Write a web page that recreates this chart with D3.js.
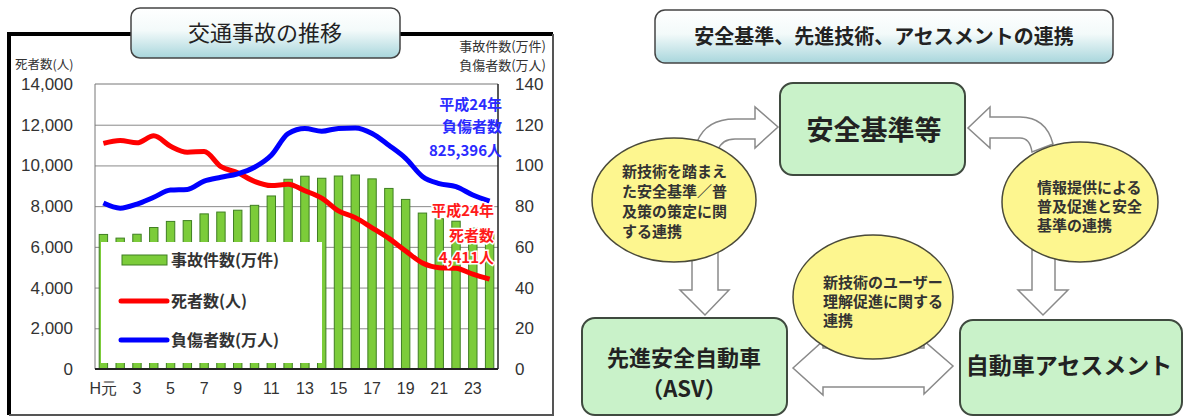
<!DOCTYPE html>
<html>
<head>
<meta charset="utf-8">
<script src="https://cdn.jsdelivr.net/npm/d3@7"></script>
<style>
  body { margin: 0; background: #fff; }
  svg { display: block; }
  .jp { font-family: "Noto Sans CJK JP", "Noto Sans", sans-serif; }
  .num { font-family: "Liberation Sans", Arial, sans-serif; }
</style>
</head>
<body>
<div id="chart"></div>
<script>
// DATA
var years = ["H元", "2", "3", "4", "5", "6", "7", "8", "9", "10", "11", "12",
  "13", "14", "15", "16", "17", "18", "19", "20", "21", "22", "23", "24"];
var tickYears = ["H元", "3", "5", "7", "9", "11", "13", "15", "17", "19", "21", "23"];
// 事故件数 (万件)
var accidents = [66.1, 64.3, 66.2, 69.5, 72.5, 72.9, 76.2, 77.1, 78.0, 80.4, 85.0, 93.2,
  94.7, 93.7, 94.8, 95.3, 93.4, 88.7, 83.3, 76.6, 73.8, 72.6, 69.2, 66.5];
// 死者数 (人)
var deaths = [11086, 11227, 11109, 11452, 10942, 10649, 10684, 9943, 9642, 9214, 9012, 9073,
  8757, 8396, 7768, 7436, 6937, 6415, 5796, 5209, 4979, 4948, 4663, 4411];
// 負傷者数 (万人)
var injured = [81.5, 79.0, 81.0, 84.4, 87.9, 88.2, 92.3, 94.2, 95.9, 99.1, 105.0, 115.6,
  118.1, 116.8, 118.2, 118.4, 115.7, 109.9, 103.5, 94.6, 91.1, 89.6, 85.5, 82.5];
var leftTicks = [0, 2000, 4000, 6000, 8000, 10000, 12000, 14000];
var rightTicks = [0, 20, 40, 60, 80, 100, 120, 140];
var legendItems = ["事故件数(万件)", "死者数(人)", "負傷者数(万人)"];

// diagram texts
var diagramTitle = "安全基準、先進技術、アセスメントの連携";
var boxTop = ["安全基準等"];
var boxLeft = ["先進安全自動車", "（ASV）"];
var boxRight = ["自動車アセスメント"];
var noteLeft = ["新技術を踏まえ", "た安全基準／普", "及策の策定に関", "する連携"];
var noteRight = ["情報提供による", "普及促進と安全", "基準の連携"];
var noteMid = ["新技術のユーザー", "理解促進に関する", "連携"];

var svgWidth = 1185, svgHeight = 417;
var svg = d3.select("#chart").append("svg")
  .attr("width", svgWidth)
  .attr("height", svgHeight);

var defs = svg.append("defs");
var grad = defs.append("linearGradient").attr("id", "titleGrad")
  .attr("x1", 0).attr("y1", 0).attr("x2", 0).attr("y2", 1);
grad.append("stop").attr("offset", "0%").attr("stop-color", "#ffffff");
grad.append("stop").attr("offset", "45%").attr("stop-color", "#f3fafa");
grad.append("stop").attr("offset", "100%").attr("stop-color", "#a8d6dc");

// ---------------- LEFT PANEL: chart ----------------
// frame
svg.append("path")
  .attr("d", "M9,415 L9,34 L553,34")
  .attr("fill", "none").attr("stroke", "#000").attr("stroke-width", 4);
svg.append("path")
  .attr("d", "M553,34 L553,415 L9,415")
  .attr("fill", "none").attr("stroke", "#555").attr("stroke-width", 2);

// plot area
var plot = { left: 95, right: 498, top: 84, bottom: 369 };

var x = d3.scaleBand()
  .domain(years)
  .range([plot.left, plot.right])
  .paddingInner(0.5)
  .paddingOuter(0.25);

var yLeft = d3.scaleLinear().domain([0, 14000]).range([plot.bottom, plot.top]);
var yRight = d3.scaleLinear().domain([0, 140]).range([plot.bottom, plot.top]);

// gridlines
svg.append("g")
  .attr("transform", `translate(${plot.left},0)`)
  .call(d3.axisLeft(yLeft).tickValues(leftTicks.slice(1, -1))
    .tickSize(-(plot.right - plot.left)).tickFormat(""))
  .call(g => g.select(".domain").remove())
  .selectAll("line").attr("stroke", "#8a8a8a");

// plot border
svg.append("path")
  .attr("d", `M${plot.left},${plot.bottom} L${plot.left},${plot.top} L${plot.right},${plot.top}`)
  .attr("fill", "none").attr("stroke", "#777").attr("stroke-width", 1);
svg.append("line")
  .attr("x1", plot.right).attr("x2", plot.right)
  .attr("y1", plot.top).attr("y2", plot.bottom)
  .attr("stroke", "#222").attr("stroke-width", 1.5);

// bars
svg.append("g").selectAll("rect")
  .data(accidents)
  .enter()
  .append("rect")
  .attr("x", (d, i) => x(years[i]))
  .attr("y", d => yRight(d))
  .attr("width", x.bandwidth())
  .attr("height", d => plot.bottom - yRight(d))
  .attr("fill", "#7ccc3a")
  .attr("stroke", "#3f7f22")
  .attr("stroke-width", 1);

// lines
var cx = (d, i) => x(years[i]) + x.bandwidth() / 2;
var deathLine = d3.line().x(cx).y(d => yLeft(d)).curve(d3.curveMonotoneX);
var injuredLine = d3.line().x(cx).y(d => yRight(d)).curve(d3.curveMonotoneX);

svg.append("path").datum(deaths)
  .attr("d", deathLine)
  .attr("fill", "none").attr("stroke", "#ff0000").attr("stroke-width", 5)
  .attr("stroke-linejoin", "round");
svg.append("path").datum(injured)
  .attr("d", injuredLine)
  .attr("fill", "none").attr("stroke", "#0000ff").attr("stroke-width", 5)
  .attr("stroke-linejoin", "round");

// legend (white box covering lower part of bars)
var legend = svg.append("g");
legend.append("rect")
  .attr("x", 101).attr("y", 242).attr("width", 221).attr("height", 121)
  .attr("fill", "#fff");
var legendY = [260, 301, 340];
legend.append("rect")
  .attr("x", 122).attr("y", legendY[0] - 5).attr("width", 45).attr("height", 10)
  .attr("fill", "#7ccc3a").attr("stroke", "#3f7f22");
legend.append("line")
  .attr("x1", 121).attr("x2", 167).attr("y1", legendY[1]).attr("y2", legendY[1])
  .attr("stroke", "#ff0000").attr("stroke-width", 5).attr("stroke-linecap", "round");
legend.append("line")
  .attr("x1", 121).attr("x2", 167).attr("y1", legendY[2]).attr("y2", legendY[2])
  .attr("stroke", "#0000ff").attr("stroke-width", 5).attr("stroke-linecap", "round");
legend.selectAll("text.leg")
  .data(legendItems)
  .enter()
  .append("text")
  .attr("class", "jp leg")
  .attr("x", 171)
  .attr("y", (d, i) => legendY[i])
  .attr("dy", "0.35em")
  .attr("font-size", 16)
  .attr("font-weight", "bold")
  .attr("fill", "#333")
  .text(d => d);

// baseline
svg.append("line")
  .attr("x1", plot.left).attr("x2", plot.right)
  .attr("y1", plot.bottom).attr("y2", plot.bottom)
  .attr("stroke", "#222").attr("stroke-width", 2);

// axes
var leftAxis = svg.append("g")
  .attr("transform", `translate(${plot.left},0)`)
  .call(d3.axisLeft(yLeft).tickValues(leftTicks).tickFormat(d3.format(","))
    .tickSize(0).tickPadding(22));
leftAxis.select(".domain").remove();
leftAxis.selectAll("text").attr("class", "num").attr("font-size", 17).attr("fill", "#333");

var rightAxis = svg.append("g")
  .attr("transform", `translate(${plot.right},0)`)
  .call(d3.axisRight(yRight).tickValues(rightTicks).tickSize(0).tickPadding(17));
rightAxis.select(".domain").remove();
rightAxis.selectAll("text").attr("class", "num").attr("font-size", 17).attr("fill", "#333");

var bottomAxis = svg.append("g")
  .attr("transform", `translate(0,${plot.bottom})`)
  .call(d3.axisBottom(x).tickValues(tickYears).tickSize(0).tickPadding(14));
bottomAxis.select(".domain").remove();
bottomAxis.selectAll("text").attr("class", "num").attr("font-size", 16).attr("fill", "#333");

// axis titles
svg.append("text").attr("class", "jp")
  .attr("x", 15).attr("y", 65).attr("dy", "0.35em")
  .attr("font-size", 12.5).attr("fill", "#333")
  .text("死者数(人)");
svg.append("text").attr("class", "jp")
  .attr("x", 546).attr("y", 46).attr("dy", "0.35em")
  .attr("text-anchor", "end").attr("font-size", 13).attr("fill", "#333")
  .text("事故件数(万件)");
svg.append("text").attr("class", "jp")
  .attr("x", 546).attr("y", 65).attr("dy", "0.35em")
  .attr("text-anchor", "end").attr("font-size", 13).attr("fill", "#333")
  .text("負傷者数(万人)");

// annotations
var blueNote = ["平成24年", "負傷者数", "825,396人"];
var blueY = [105, 127, 151];
svg.append("g").selectAll("text")
  .data(blueNote).enter().append("text")
  .attr("class", "jp")
  .attr("x", 502).attr("y", (d, i) => blueY[i]).attr("dy", "0.35em")
  .attr("text-anchor", "end").attr("font-size", 15).attr("font-weight", "bold")
  .attr("fill", "#2b2bff")
  .text(d => d);

var redNote = ["平成24年", "死者数", "4,411人"];
var redY = [211, 236, 258];
svg.append("g").selectAll("text")
  .data(redNote).enter().append("text")
  .attr("class", "jp")
  .attr("x", 494).attr("y", (d, i) => redY[i]).attr("dy", "0.35em")
  .attr("text-anchor", "end").attr("font-size", 15).attr("font-weight", "bold")
  .attr("fill", "#ff1a1a")
  .attr("stroke", "#fff").attr("stroke-width", 3).attr("paint-order", "stroke")
  .text(d => d);

// chart title box
svg.append("rect")
  .attr("x", 131).attr("y", 8).attr("width", 269).attr("height", 50).attr("rx", 9)
  .attr("fill", "url(#titleGrad)").attr("stroke", "#444").attr("stroke-width", 1.5);
svg.append("text").attr("class", "jp")
  .attr("x", 265).attr("y", 33).attr("dy", "0.35em")
  .attr("text-anchor", "middle").attr("font-size", 22).attr("fill", "#222")
  .text("交通事故の推移");

// ---------------- RIGHT PANEL: diagram ----------------
var diag = svg.append("g");

diag.append("rect")
  .attr("x", 655).attr("y", 10).attr("width", 458).attr("height", 53).attr("rx", 10)
  .attr("fill", "url(#titleGrad)").attr("stroke", "#444").attr("stroke-width", 1.5);
diag.append("text").attr("class", "jp")
  .attr("x", 884).attr("y", 37).attr("dy", "0.35em")
  .attr("text-anchor", "middle").attr("font-size", 20).attr("font-weight", "bold")
  .attr("fill", "#222")
  .text(diagramTitle);

// arrows (behind everything else)
var arrowStyle = g => g.attr("fill", "#fff").attr("stroke", "#8a8a8a").attr("stroke-width", 1.5)
  .attr("stroke-linejoin", "miter");
// curved arrow left -> top box
diag.append("path")
  .attr("d", "M697,142 Q706,119 735,119 L755,119 L755,107 L778,127 L755,148 L755,139 L735,139 Q722,139 718,150 Z")
  .call(arrowStyle);
// curved arrow right -> top box
diag.append("path")
  .attr("d", "M1053,144 Q1046,117 1020,117 L990,117 L990,107 L968,128 L990,148 L990,138 L1020,138 Q1030,138 1032,152 Z")
  .call(arrowStyle);
// down arrows
diag.append("path")
  .attr("d", "M692,250 L692,290 L680,290 L705,315 L729,290 L718,290 L718,250 Z")
  .call(arrowStyle);
diag.append("path")
  .attr("d", "M1032,250 L1032,290 L1018,290 L1043,315 L1068,290 L1055,290 L1055,250 Z")
  .call(arrowStyle);
// double arrow
diag.append("path")
  .attr("d", "M793,368 L823,341 L823,348 L924,348 L924,341 L953,366 L924,394 L924,387 L823,387 L823,395 Z")
  .call(arrowStyle);

// boxes
var boxStyle = g => g.attr("fill", "#c9f2c9").attr("stroke", "#3f4a3f").attr("stroke-width", 2);
diag.append("rect").attr("x", 780).attr("y", 83).attr("width", 185).attr("height", 92).attr("rx", 13)
  .call(boxStyle);
diag.append("rect").attr("x", 582).attr("y", 318).attr("width", 205).attr("height", 97).attr("rx", 13)
  .call(boxStyle);
diag.append("rect").attr("x", 960).attr("y", 320).attr("width", 222).attr("height", 95).attr("rx", 13)
  .call(boxStyle);

var bigText = (lines, cx0, ys, size) => {
  diag.append("g").selectAll("text").data(lines).enter().append("text")
    .attr("class", "jp")
    .attr("x", cx0).attr("y", (d, i) => ys[i]).attr("dy", "0.35em")
    .attr("text-anchor", "middle").attr("font-size", size).attr("font-weight", "bold")
    .attr("fill", "#222")
    .text(d => d);
};
bigText(boxTop, 874, [131], 27);
bigText(boxLeft, 684, [358, 389], 22);
bigText(boxRight, 1069, [366], 23);

// ellipses
var ellStyle = g => g.attr("fill", "#fdf68f").attr("stroke", "#4a4a3a").attr("stroke-width", 1.5);
diag.append("ellipse").attr("cx", 674).attr("cy", 200).attr("rx", 82).attr("ry", 62).call(ellStyle);
diag.append("ellipse").attr("cx", 1080).attr("cy", 202).attr("rx", 78).attr("ry", 60).call(ellStyle);
diag.append("ellipse").attr("cx", 873).attr("cy", 297).attr("rx", 80).attr("ry", 62).call(ellStyle);

var noteText = (lines, x0, ys) => {
  diag.append("g").selectAll("text").data(lines).enter().append("text")
    .attr("class", "jp")
    .attr("x", x0).attr("y", (d, i) => ys[i]).attr("dy", "0.35em")
    .attr("font-size", 15).attr("font-weight", "bold")
    .attr("fill", "#333")
    .text(d => d);
};
noteText(noteLeft, 622, [172, 192, 212, 232]);
noteText(noteRight, 1037, [188, 207, 226]);
noteText(noteMid, 823, [283, 302, 321]);
</script>
</body>
</html>
